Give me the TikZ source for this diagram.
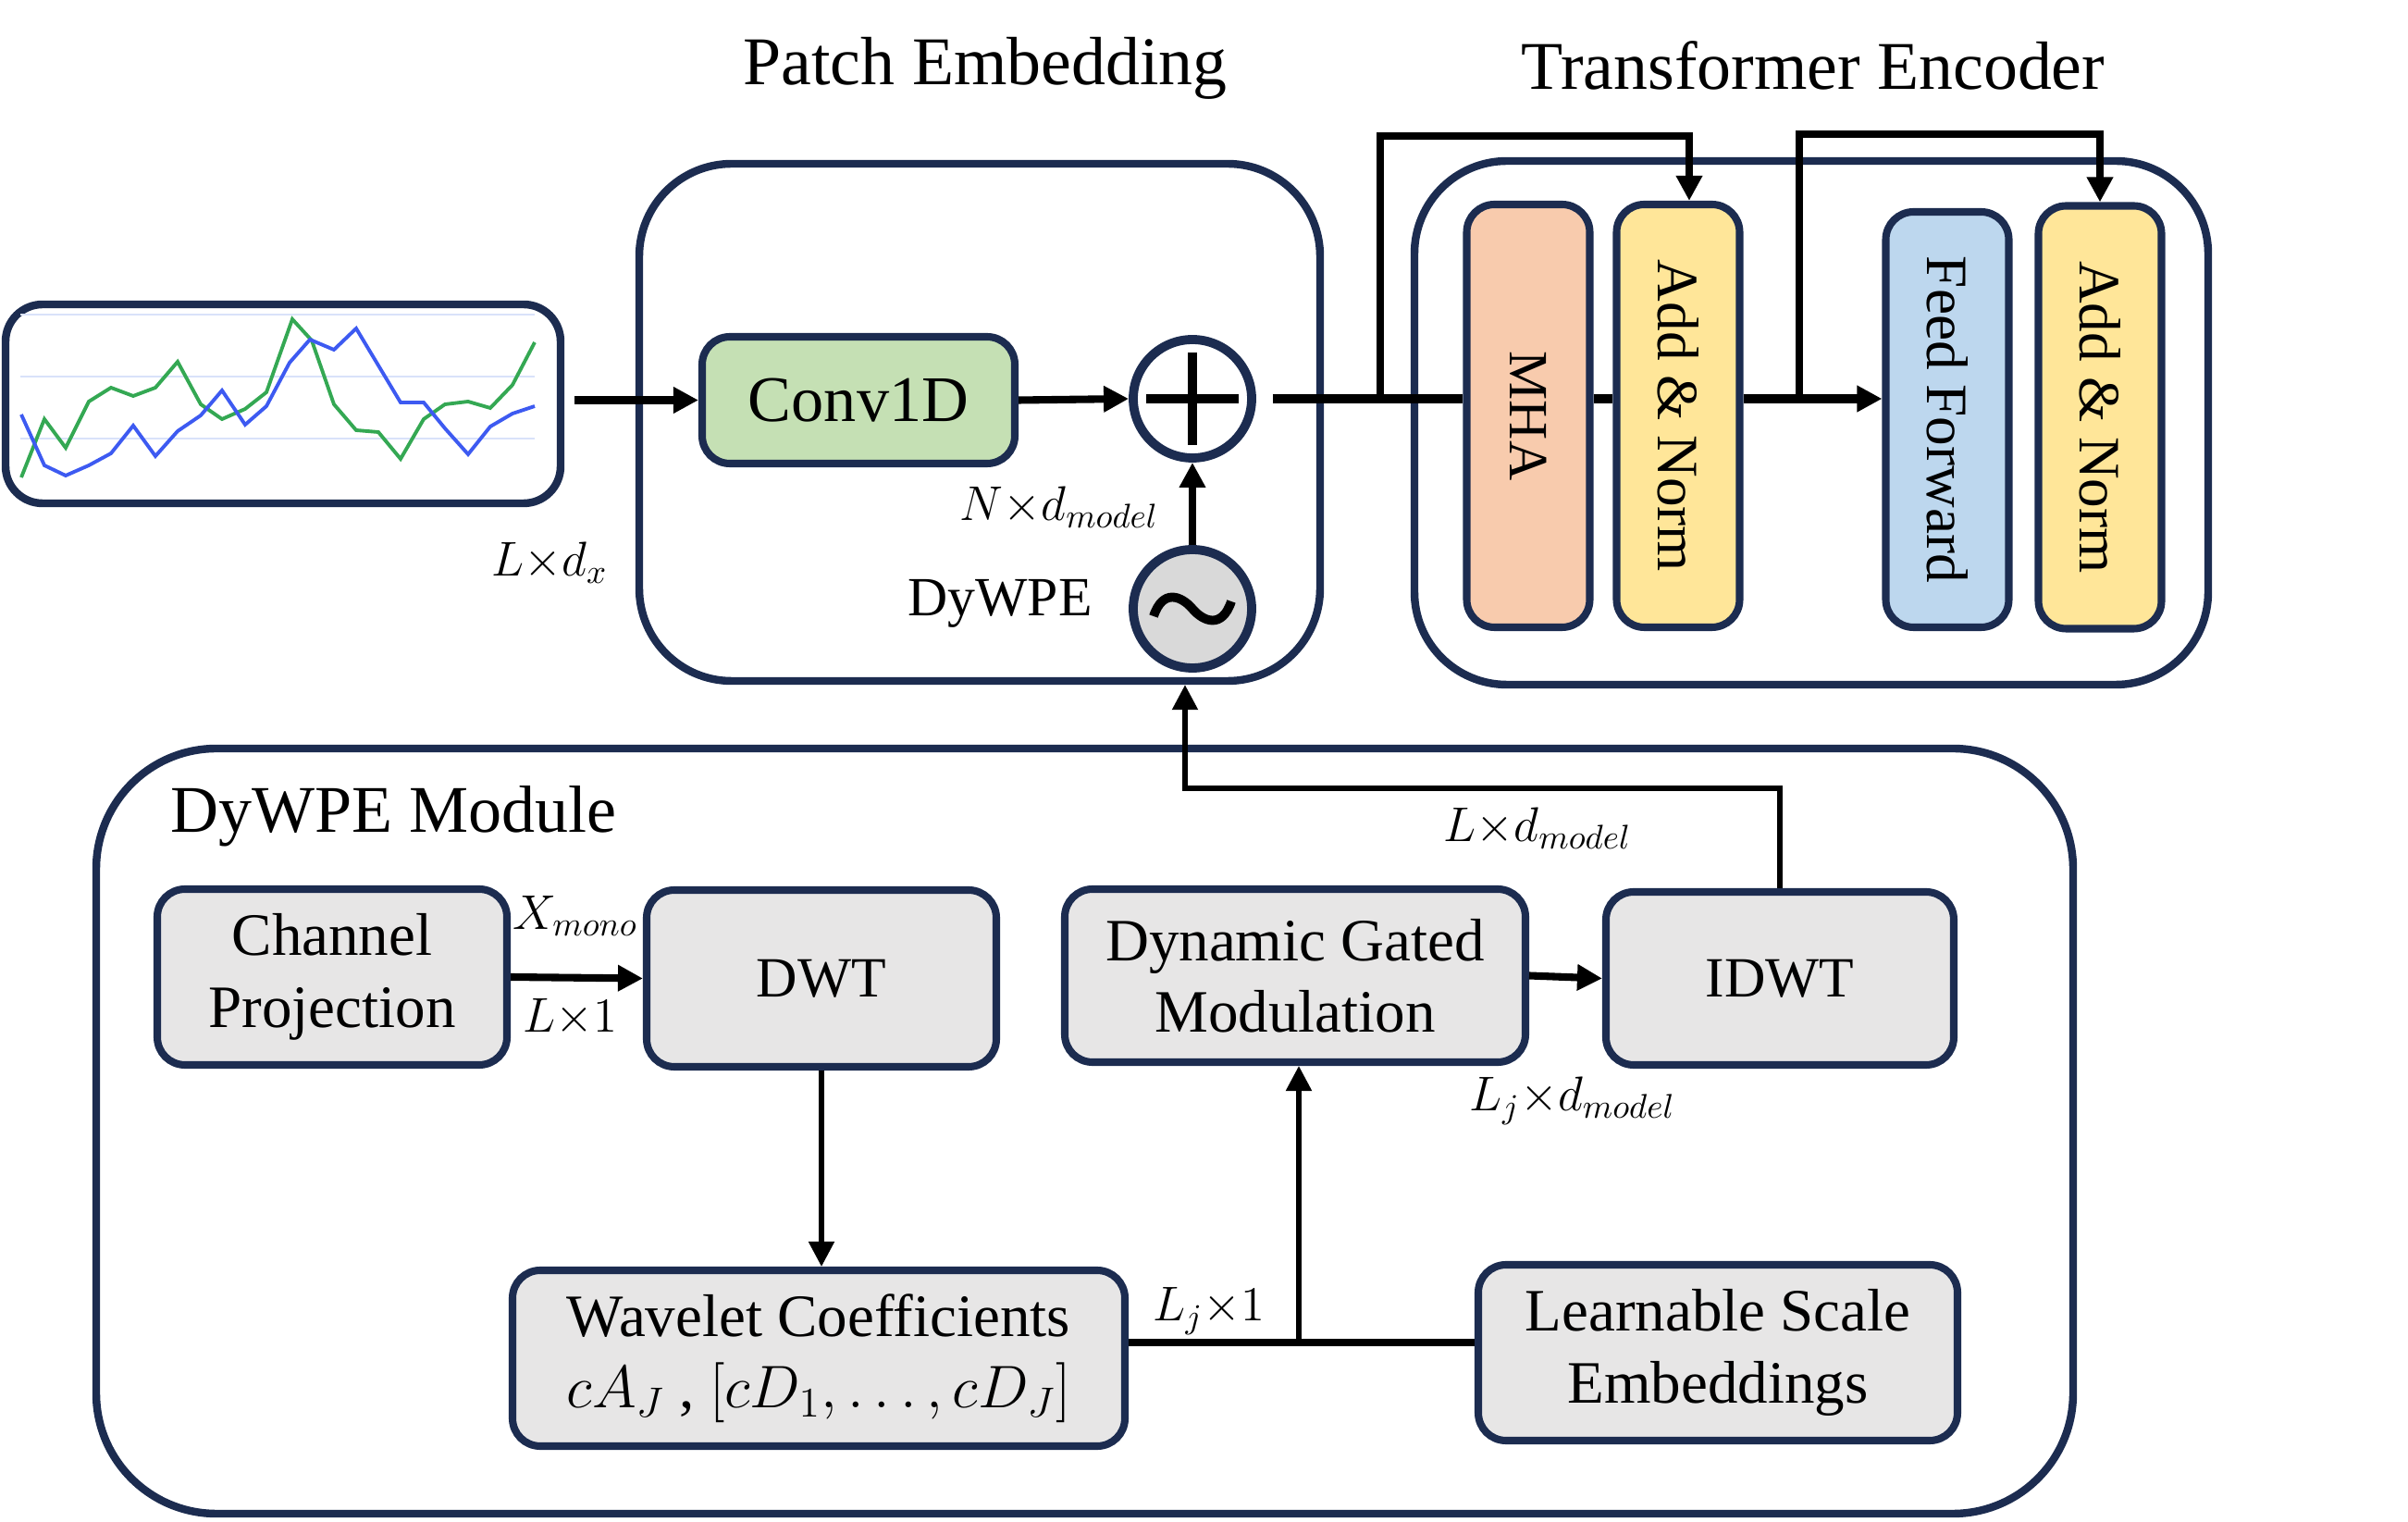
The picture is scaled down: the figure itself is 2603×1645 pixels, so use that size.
\RequirePackage{fix-cm}
\documentclass[tikz,border=0pt]{standalone}
\usepackage{fontspec}
\setmainfont{Liberation Serif}
\usepackage{tikz}
\usetikzlibrary{positioning, arrows.meta, calc}
\definecolor{navy}{HTML}{1C2C50}
\definecolor{boxgray}{HTML}{E7E6E6}
\definecolor{wavegray}{HTML}{D9D9D9}
\definecolor{convgreen}{HTML}{C5E0B4}
\definecolor{mhaorange}{HTML}{F8CBAD}
\definecolor{normyellow}{HTML}{FFE699}
\definecolor{ffblue}{HTML}{BDD7EE}
\definecolor{seriesgreen}{HTML}{34A853}
\definecolor{seriesblue}{HTML}{3D5AF1}
\definecolor{gridblue}{HTML}{D9E2FA}
\tikzset{
  panel/.style={rectangle, rounded corners=10mm, draw=navy, line width=2.4pt, inner sep=0pt},
  block/.style={rectangle, rounded corners=3mm, draw=navy, line width=2.3pt, fill=boxgray, align=center, font=\fontsize{18.5}{22}\selectfont, inner sep=0pt},
  stage/.style={rectangle, rounded corners=3mm, draw=navy, line width=2.3pt, minimum width=13.3mm, minimum height=45.7mm, inner sep=0pt, font=\fontsize{18}{22}\selectfont},
  adder/.style={circle, draw=navy, line width=2.8pt, minimum size=12.8mm, inner sep=0pt},
  dimlabel/.style={font=\fontsize{15}{17}\selectfont},
  arrow/.style={line width=2.3pt, -{Triangle[length=2.7mm, width=2.7mm]}},
  thinarrow/.style={line width=1.5pt, -{Triangle[length=2.7mm, width=2.7mm]}},
  link/.style={line width=2.3pt}
}

\begin{document}
\begin{tikzpicture}[x=0.1mm, y=-0.1mm]
    \useasboundingbox (0,0) rectangle (2603,1645);

    % titles
    \node[anchor=base, font=\fontsize{21}{24}\selectfont] (petitle) at (1065,92) {Patch Embedding};
    \node[anchor=base, font=\fontsize{21}{24}\selectfont] (tetitle) at (1960,97) {Transformer Encoder};

    % frames
    \node[panel, rounded corners=4mm, minimum width=60mm, minimum height=21.5mm] (series) at (306,436.5) {};
    \node[panel, minimum width=73.6mm, minimum height=55.9mm] (patch) at (1059,456.5) {};
    \node[panel, minimum width=85.8mm, minimum height=56.6mm] (encoder) at (1958,457) {};
    \node[panel, rounded corners=13mm, minimum width=213.7mm, minimum height=82.7mm] (module) at (1172.5,1222.5) {};

    % input series
    \draw[gridblue, line width=0.6pt] (22,340) -- (578,340) (22,407) -- (578,407) (22,474) -- (578,474);
    \draw[seriesgreen, line width=1.1pt] plot coordinates {(23,516) (48,453) (71,484) (96,434) (120,419) (144,428) (168,419) (192,391) (217,437) (240,453) (265,442) (288,424) (316,345) (337,368) (361,437) (385,465) (409,467) (433,496) (458,453) (481,437) (506,434) (530,441) (554,416) (578,370)};
    \draw[seriesblue, line width=1.1pt] plot coordinates {(23,448) (48,503) (71,514) (96,503) (120,490) (144,460) (168,493) (192,466) (217,449) (240,422) (265,459) (288,439) (313,392) (335,367) (361,378) (385,355) (409,395) (433,435) (458,435) (481,463) (506,491) (530,461) (554,447) (578,439)};
    \node[dimlabel] (xdim) at (594,608) {$L{\times}d_x$};

    % patch embedding
    \node[block, fill=convgreen, minimum width=33.8mm, minimum height=13.7mm, font=\fontsize{20}{24}\selectfont] (conv) at (928,432.5) {Conv1D};
    \node[adder, fill=white] (adder) at (1289,431) {};
    \draw[line width=2.6pt] (adder.center) ++(-50,0) -- ++(100,0) (adder.center) ++(0,-50) -- ++(0,100);
    \node[adder, fill=wavegray] (wave) at (1289,658) {};
    \draw[line width=2.8pt] ($(wave)+(-42,8)$) .. controls ($(wave)+(-32,-22)$) and ($(wave)+(-12,-14)$) .. (wave.center) .. controls ($(wave)+(12,14)$) and ($(wave)+(32,22)$) .. ($(wave)+(42,-8)$);
    \node[dimlabel] (ndim) at (1145,548) {$N{\times}d_{model}$};
    \node[font=\fontsize{17}{20}\selectfont] (dywpe) at (1081,652) {DyWPE};

    \draw[arrow, shorten <=1.1mm] (series.east |- conv.west) -- (conv.west);
    \draw[arrow] (conv.east) -- (adder.west);
    \draw[arrow] (wave.north) -- (adder.south);

    % transformer encoder
    \node[stage, fill=mhaorange, font=\fontsize{17}{20}\selectfont] (mha) at (1652,449.5) {\rotatebox{-90}{MHA}};
    \node[stage, fill=normyellow] (an1) at (1814,449.5) {\rotatebox{-90}{Add \& Norm}};
    \node[stage, fill=ffblue, minimum height=44.9mm] (ff) at (2105,453.5) {\rotatebox{-90}{Feed Forward}};
    \node[stage, fill=normyellow] (an2) at (2270,451) {\rotatebox{-90}{Add \& Norm}};

    \draw[link, line width=2.6pt, shorten <=1.8mm] (adder.east) -- (adder.east -| mha.west);
    \draw[link, line width=2.6pt] (mha.east |- adder.east) -- (an1.west |- adder.east);
    \draw[arrow, line width=2.6pt] (an1.east |- adder.east) -- (ff.west |- adder.east);
    \coordinate (split1) at (1492,431);
    \coordinate (split2) at (1945,431);
    \draw[arrow, line width=2.2pt] (split1) -- ++(0,-284) -| ([xshift=1.2mm]an1.north);
    \draw[arrow, line width=2.2pt] (split2) -- ++(0,-286) -| (an2.north);

    % DyWPE module
    \node[anchor=base west, font=\fontsize{20.5}{24}\selectfont] (modtitle) at (172,900) {DyWPE Module};
    \node[block, minimum width=37.8mm, minimum height=19mm] (proj) at (359,1056) {Channel\\Projection};
    \node[block, minimum width=37.8mm, minimum height=19.1mm, font=\fontsize{17.5}{22}\selectfont] (dwt) at (888,1057.5) {DWT};
    \node[block, minimum width=49.8mm, minimum height=18.7mm] (gate) at (1400,1054.5) {Dynamic Gated\\Modulation};
    \node[block, minimum width=37.6mm, minimum height=18.7mm, font=\fontsize{17.5}{22}\selectfont] (idwt) at (1924,1057.5) {IDWT};
    \node[block, minimum width=66.2mm, minimum height=19mm] (coeff) at (885,1468) {Wavelet Coefficients\\$cA_J$ , $[cD_1,\ldots,cD_J]$};
    \node[block, minimum width=51.8mm, minimum height=19mm] (scaleemb) at (1857,1462) {Learnable Scale\\Embeddings};

    \draw[arrow] (proj.east) -- (dwt.west);
    \node[dimlabel] (xmono) at (622,990) {$X_{mono}$};
    \node[dimlabel] (lone) at (616,1100) {$L{\times}1$};
    \draw[thinarrow] (dwt.south) -- (dwt.south |- coeff.north);
    \coordinate (merge) at (1404,1451);
    \draw[link] (coeff.east |- merge) -- (scaleemb.west |- merge);
    \draw[thinarrow] (merge) -- (merge |- gate.south);
    \node[dimlabel] (ljone) at (1307,1417) {$L_j{\times}1$};
    \draw[arrow] (gate.east) -- (idwt.west);
    \node[dimlabel] (ljdim) at (1700,1190) {$L_j{\times}d_{model}$};
    \draw[thinarrow] (idwt.north) -- ++(0,-108) -| ([xshift=22.2mm]patch.south);
    \node[dimlabel] (ldim) at (1662,895) {$L{\times}d_{model}$};

\end{tikzpicture}
\end{document}
